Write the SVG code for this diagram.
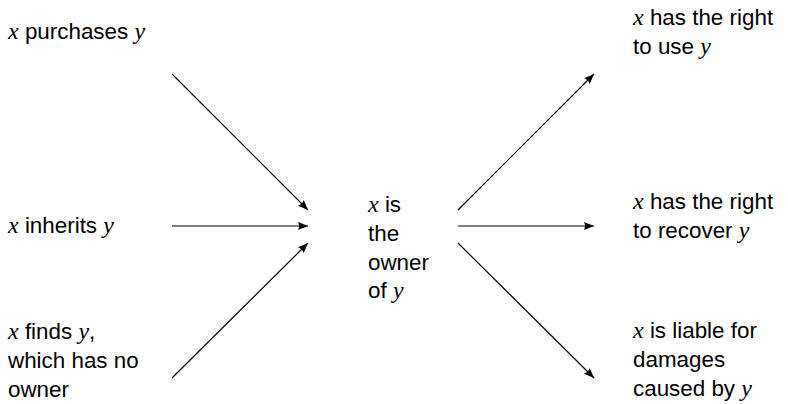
<svg xmlns="http://www.w3.org/2000/svg" width="788" height="404" viewBox="0 0 788 404">
<style>
text{font-family:"Liberation Sans",Arial,sans-serif;font-size:22.4px;fill:#000}
.m{font-family:"Liberation Serif","Times New Roman",serif;font-style:italic;font-size:24px}
.c line{stroke:#000;stroke-width:1.2;marker-end:url(#a)}
</style>
<defs>
<marker id="a" viewBox="0 0 10 8" refX="10" refY="4" markerWidth="10" markerHeight="8" markerUnits="userSpaceOnUse" orient="auto">
<path d="M0,0 L10,4 L0,8 Q2,4 0,0Z" fill="#000"/>
</marker>
</defs>
<g class="c" id="connectors">
<line x1="172" y1="74" x2="308" y2="210"/>
<line x1="172" y1="226" x2="308" y2="226"/>
<line x1="172" y1="378" x2="308" y2="243"/>
<line x1="458" y1="210" x2="594" y2="74"/>
<line x1="458" y1="226" x2="594" y2="226"/>
<line x1="458" y1="243" x2="594" y2="378"/>
</g>
<g id="purchases"><text x="8" y="39"><tspan class="m">x</tspan> purchases <tspan class="m">y</tspan></text></g>
<g id="inherits"><text x="8" y="233"><tspan class="m">x</tspan> inherits <tspan class="m">y</tspan></text></g>
<g id="finds"><text x="8" y="339"><tspan class="m">x</tspan> finds <tspan class="m">y</tspan>,</text><text x="8" y="368">which has no</text><text x="8" y="397">owner</text></g>
<g id="owner"><text x="368" y="212"><tspan class="m">x</tspan> is</text><text x="368" y="241">the</text><text x="368" y="270">owner</text><text x="368" y="298">of <tspan class="m">y</tspan></text></g>
<g id="use"><text x="633" y="25"><tspan class="m">x</tspan> has the right</text><text x="633" y="54">to use <tspan class="m">y</tspan></text></g>
<g id="recover"><text x="633" y="209"><tspan class="m">x</tspan> has the right</text><text x="633" y="238">to recover <tspan class="m">y</tspan></text></g>
<g id="liable"><text x="633" y="338"><tspan class="m">x</tspan> is liable for</text><text x="633" y="367">damages</text><text x="633" y="396">caused by <tspan class="m">y</tspan></text></g>
</svg>
